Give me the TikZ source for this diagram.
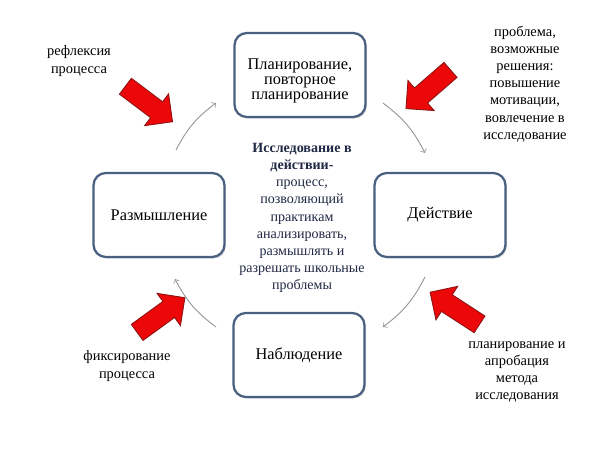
\documentclass[tikz,border=0pt]{standalone}
\usepackage{fontspec}
\setmainfont{Liberation Serif}
\usetikzlibrary{shapes.arrows,shadows}
\definecolor{boxline}{RGB}{74,96,128}
\definecolor{navy}{RGB}{31,40,68}
\definecolor{pushred}{RGB}{236,8,8}
\definecolor{pushedge}{RGB}{140,20,20}
\begin{document}
\begin{tikzpicture}[x=0.02cm,y=0.02cm,
    stage/.style = {draw=boxline, line width=1.3pt, rounded corners=7pt, fill=white, minimum width=2.62cm, minimum height=1.68cm, align=center, font=\fontsize{9.3}{8.6}\selectfont, drop shadow={opacity=0.3, shadow xshift=0.8pt, shadow yshift=-0.9pt}},
    note/.style = {align=center, font=\fontsize{8.2}{9.8}\selectfont},
    push/.style = {single arrow, draw=pushedge, fill=pushred, line width=0.5pt, minimum height=1.18cm, minimum width=0pt, inner sep=0.19cm, single arrow head extend=0.2cm},
    cyc/.style = {->, draw=gray!85, line width=0.5pt}]
    \useasboundingbox (0,0) rectangle (600,450);
    \node[stage] (plan) at (300,375) {\rule{0pt}{13pt}Планирование,\\повторное\\планирование};
    \node[stage] (act) at (440,235) {Действие};
    \node[stage] (obs) at (299,95) {Наблюдение};
    \node[stage] (refl) at (159,235) {Размышление};
    \node[note, text=navy, font=\fontsize{8}{9.75}\selectfont] (core) at (302,232) {\textbf{Исследование в}\\\textbf{действии-}\\процесс,\\позволяющий\\практикам\\анализировать,\\размышлять и\\разрешать школьные\\проблемы};
    \node[note] (n1) at (79,389) {рефлексия\\процесса};
    \node[note] (n2) at (525,366) {проблема,\\возможные\\решения:\\повышение\\мотивации,\\вовлечение в\\исследование};
    \node[note] (n3) at (517,78) {планирование и\\апробация\\метода\\исследования};
    \node[note] (n4) at (127,84) {фиксирование\\процесса};
    \node[push, rotate=-37] (p1) at (145,349) {};
    \node[push, rotate=-139] (p2) at (432,364) {};
    \node[push, rotate=147] (p3) at (459,139) {};
    \node[push, rotate=36] (p4) at (157,132) {};
    \coordinate (a1) at (176,300);
    \coordinate (a2) at (216,347);
    \coordinate (b1) at (383,347);
    \coordinate (b2) at (425,297);
    \coordinate (c1) at (425,173);
    \coordinate (c2) at (383,123);
    \coordinate (d1) at (216,123);
    \coordinate (d2) at (175,171);
    \draw[cyc] (a1) to[bend left=13] (a2);
    \draw[cyc] (b1) to[bend left=13] (b2);
    \draw[cyc] (c1) to[bend left=13] (c2);
    \draw[cyc] (d1) to[bend left=13] (d2);
\end{tikzpicture}
\end{document}
